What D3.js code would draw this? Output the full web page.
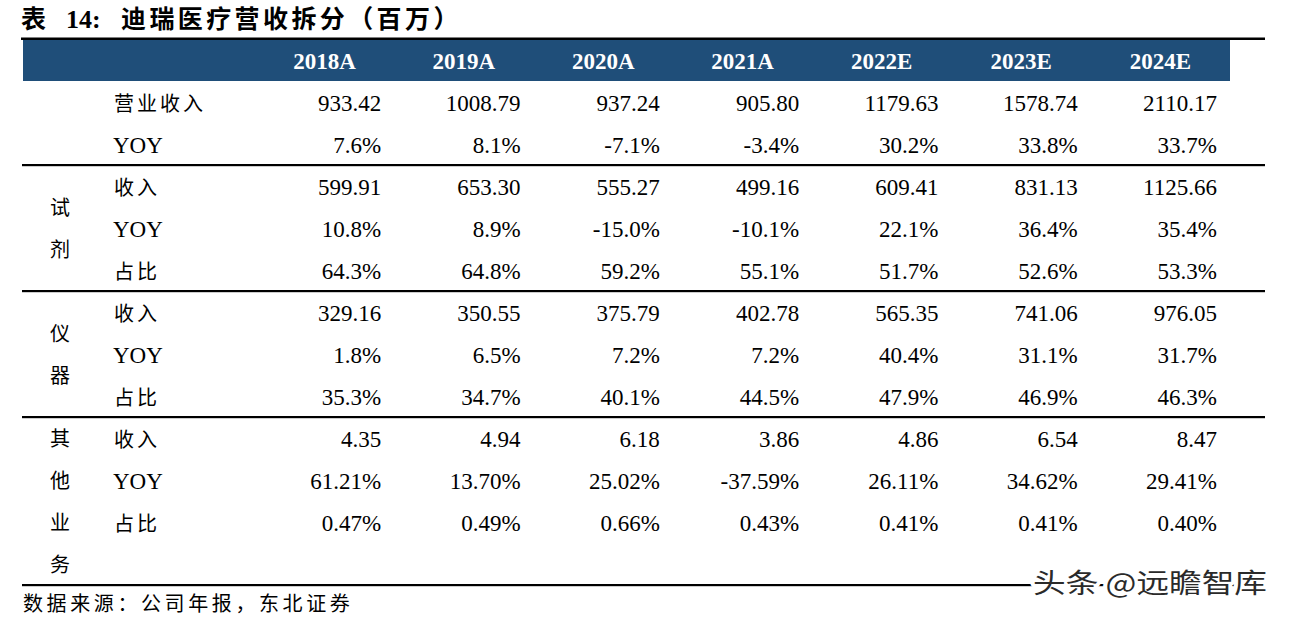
<!DOCTYPE html>
<html>
<head>
<meta charset="utf-8">
<script src="https://cdn.jsdelivr.net/npm/d3@7"></script>
<style>
  html, body { margin: 0; padding: 0; background: #fff; }
  svg { display: block; }
</style>
</head>
<body>
<svg id="chart" width="1291" height="620"></svg>
<script>
// ---------- DATA ----------
const years = ["2018A", "2019A", "2020A", "2021A", "2022E", "2023E", "2024E"];

const totalRevenue = [933.42, 1008.79, 937.24, 905.80, 1179.63, 1578.74, 2110.17];
const totalYoy     = [7.6, 8.1, -7.1, -3.4, 30.2, 33.8, 33.7];

const reagentRevenue = [599.91, 653.30, 555.27, 499.16, 609.41, 831.13, 1125.66];
const reagentYoy     = [10.8, 8.9, -15.0, -10.1, 22.1, 36.4, 35.4];
const reagentShare   = [64.3, 64.8, 59.2, 55.1, 51.7, 52.6, 53.3];

const instrumentRevenue = [329.16, 350.55, 375.79, 402.78, 565.35, 741.06, 976.05];
const instrumentYoy     = [1.8, 6.5, 7.2, 7.2, 40.4, 31.1, 31.7];
const instrumentShare   = [35.3, 34.7, 40.1, 44.5, 47.9, 46.9, 46.3];

const otherRevenue = [4.35, 4.94, 6.18, 3.86, 4.86, 6.54, 8.47];
const otherYoy     = [61.21, 13.70, 25.02, -37.59, 26.11, 34.62, 29.41];
const otherShare   = [0.47, 0.49, 0.66, 0.43, 0.41, 0.41, 0.40];

const groupNames = ["", "试剂", "仪器", "其他业务"];
const rowLabels  = ["营业收入", "YOY", "收入", "YOY", "占比", "收入", "YOY", "占比", "收入", "YOY", "占比"];

const titleParts = ["表", "14:", "迪瑞医疗营收拆分（百万）"];
const sourceText = "数据来源：公司年报，东北证券";
const watermark  = "头条 @远瞻智库";

// ---------- TABLE MODEL ----------
const num2 = v => v.toFixed(2);
const pct1 = v => v.toFixed(1) + "%";
const pct2 = v => v.toFixed(2) + "%";

const rows = [
  { group: 0, label: rowLabels[0],  values: totalRevenue,      fmt: num2 },
  { group: 0, label: rowLabels[1],  values: totalYoy,          fmt: pct1 },
  { group: 1, label: rowLabels[2],  values: reagentRevenue,    fmt: num2 },
  { group: 1, label: rowLabels[3],  values: reagentYoy,        fmt: pct1 },
  { group: 1, label: rowLabels[4],  values: reagentShare,      fmt: pct1 },
  { group: 2, label: rowLabels[5],  values: instrumentRevenue, fmt: num2 },
  { group: 2, label: rowLabels[6],  values: instrumentYoy,     fmt: pct1 },
  { group: 2, label: rowLabels[7],  values: instrumentShare,   fmt: pct1 },
  { group: 3, label: rowLabels[8],  values: otherRevenue,      fmt: num2 },
  { group: 3, label: rowLabels[9],  values: otherYoy,          fmt: pct2 },
  { group: 3, label: rowLabels[10], values: otherShare,        fmt: pct2 },
  { group: 3, label: "",            values: null,              fmt: null }
];

// ---------- LAYOUT ----------
const W = 1291, H = 620;
const FONT = "'Liberation Serif', 'Times New Roman', 'Noto Sans CJK SC', serif";
const CJK = /[\u3000-\u9fff\uff00-\uffef]/;

const svg = d3.select("#chart").attr("width", W).attr("height", H);

const lineX0 = 21, lineX1 = 1265;
const headerTop = 40, headerBottom = 81, headerRight = 1230;

const x = d3.scaleBand().domain(years).range([257, 1232]).padding(0);
const y = d3.scaleBand().domain(d3.range(rows.length)).range([headerBottom, 585]).padding(0);
const rc = i => y(i) + y.bandwidth() / 2;

// Title
const title = svg.append("text")
  .attr("y", 28)
  .attr("font-family", FONT)
  .attr("font-size", 25)
  .attr("font-weight", "bold")
  .attr("fill", "#000");
title.append("tspan").attr("x", 21).text(titleParts[0]);
title.append("tspan").attr("x", 66).attr("font-size", 26).text(titleParts[1]);
title.append("tspan").attr("x", 121).attr("letter-spacing", 3.4).text(titleParts[2]);

// Top rule
svg.append("rect").attr("x", lineX0).attr("y", 37.5).attr("width", lineX1 - lineX0).attr("height", 2.5).attr("fill", "#000");

// Header band
svg.append("rect")
  .attr("x", 23).attr("y", headerTop)
  .attr("width", headerRight - 23).attr("height", headerBottom - headerTop)
  .attr("fill", "#1F4E79");

svg.append("g").selectAll("text").data(years).join("text")
  .attr("x", d => x(d) + x.bandwidth() / 2 - 2)
  .attr("y", (headerTop + headerBottom) / 2 + 8.5)
  .attr("text-anchor", "middle")
  .attr("font-family", FONT)
  .attr("font-size", 23)
  .attr("font-weight", "bold")
  .attr("fill", "#fff")
  .text(d => d);

// Group separators (after each group's last row) incl. bottom rule
const groupEnds = d3.range(groupNames.length).map(g => d3.max(rows.map((r, i) => r.group === g ? i : -1)));
svg.append("g").selectAll("rect").data(groupEnds).join("rect")
  .attr("x", lineX0 + 1)
  .attr("y", i => y(i) + y.bandwidth() - 1)
  .attr("width", lineX1 - lineX0 - 1)
  .attr("height", 2.2)
  .attr("fill", "#000");

// Group labels (vertical characters)
const groupLabelData = [];
groupNames.forEach((name, g) => {
  if (!name) return;
  const idx = rows.map((r, i) => r.group === g ? i : -1).filter(i => i >= 0);
  const center = (rc(idx[0]) + rc(idx[idx.length - 1])) / 2;
  const chars = Array.from(name);
  chars.forEach((c, k) => {
    groupLabelData.push({ c, cy: center + (k - (chars.length - 1) / 2) * y.step() });
  });
});
svg.append("g").selectAll("text").data(groupLabelData).join("text")
  .attr("x", 60)
  .attr("y", d => d.cy + 8)
  .attr("text-anchor", "middle")
  .attr("font-family", FONT)
  .attr("font-size", 20)
  .attr("fill", "#000")
  .text(d => d.c);

// Row labels
svg.append("g").selectAll("text").data(rows.filter(r => r.label)).join("text")
  .attr("x", d => CJK.test(d.label) ? 114 : 113)
  .attr("y", d => rc(rows.indexOf(d)) + 8.5)
  .attr("font-family", FONT)
  .attr("font-size", d => CJK.test(d.label) ? 20 : 23)
  .attr("letter-spacing", d => CJK.test(d.label) ? 3 : 0)
  .attr("fill", "#000")
  .text(d => d.label);

// Cell values
const cells = [];
rows.forEach((r, i) => {
  if (!r.values) return;
  r.values.forEach((v, j) => cells.push({ i, year: years[j], text: r.fmt(v) }));
});
svg.append("g").selectAll("text").data(cells).join("text")
  .attr("x", d => x(d.year) + x.bandwidth() - 15)
  .attr("y", d => rc(d.i) + 8.5)
  .attr("text-anchor", "end")
  .attr("font-family", FONT)
  .attr("font-size", 23)
  .attr("fill", "#000")
  .text(d => d.text);

// Source note
svg.append("text")
  .attr("x", 23).attr("y", 611)
  .attr("font-family", FONT)
  .attr("font-size", 20)
  .attr("letter-spacing", 3.6)
  .attr("fill", "#000")
  .text(sourceText);

// Watermark
svg.append("text")
  .attr("x", 1033).attr("y", 593)
  .attr("font-family", "'Noto Sans CJK SC', sans-serif")
  .attr("font-size", 27)
  .attr("textLength", 234)
  .attr("lengthAdjust", "spacingAndGlyphs")
  .attr("fill", "#2a2a2a")
  .attr("stroke", "#fff")
  .attr("stroke-width", 7)
  .attr("paint-order", "stroke")
  .attr("stroke-linejoin", "round")
  .text(watermark);
</script>
</body>
</html>
